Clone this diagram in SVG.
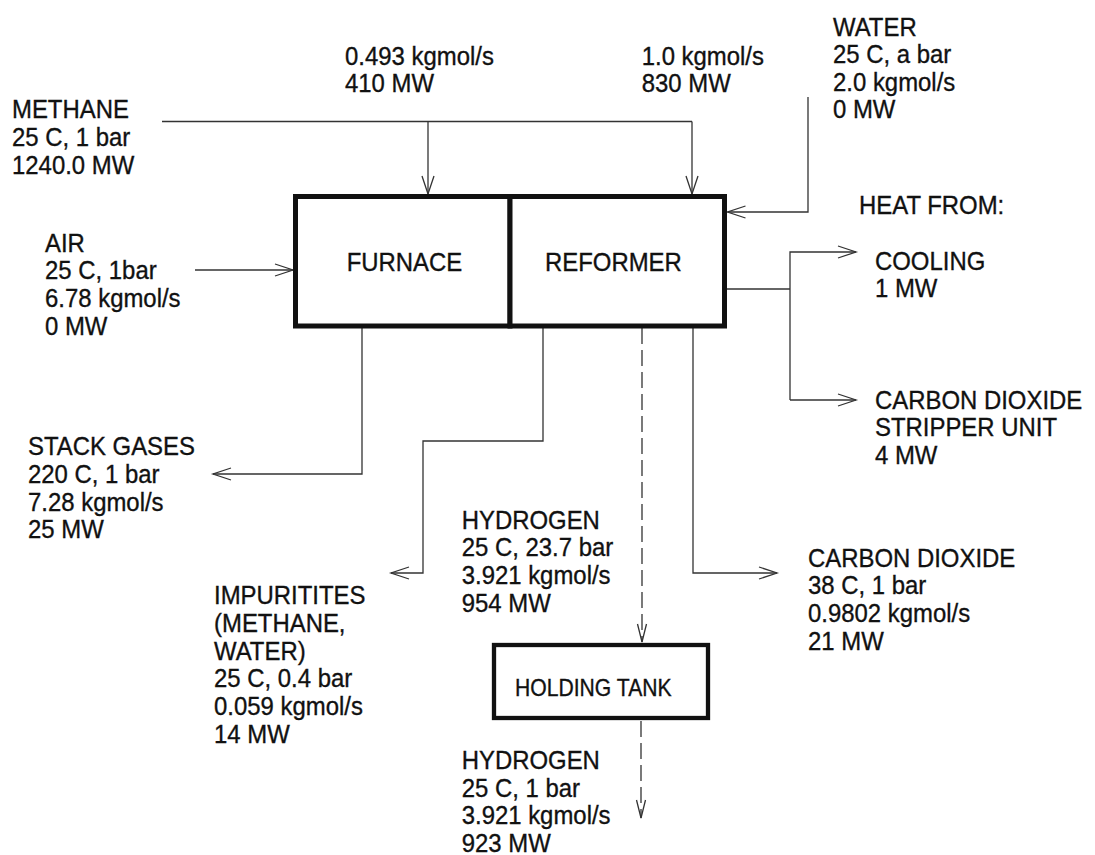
<svg xmlns="http://www.w3.org/2000/svg" width="1095" height="855" viewBox="0 0 1095 855">
<defs>
<style>
.lbl{font-family:"Liberation Sans",Arial,Helvetica,sans-serif;font-size:26px;fill:#111;stroke:#111;stroke-width:0.35;}
.small{font-size:23px;}
.box{fill:#fff;stroke:#111;stroke-width:5;}
.tank{fill:#fff;stroke:#111;stroke-width:4.3;}
.ln{fill:none;stroke:#333;stroke-width:1.3;}
.dash{fill:none;stroke:#333;stroke-width:1.3;stroke-dasharray:16 6;}
</style>
<marker id="arr" markerUnits="userSpaceOnUse" markerWidth="22" markerHeight="14" refX="18" refY="6" orient="auto" overflow="visible">
<path d="M0,0 L18,6 L0,12" fill="none" stroke="#333" stroke-width="1.3"/>
</marker>
<marker id="arrs" markerUnits="userSpaceOnUse" markerWidth="22" markerHeight="12" refX="18" refY="4.5" orient="auto" overflow="visible">
<path d="M0,0 L18,4.5 L0,9" fill="none" stroke="#333" stroke-width="1.3"/>
</marker>
</defs>
<rect width="1095" height="855" fill="#fff"/>

<g id="connectors">
<path class="ln" d="M162,121.5 H692"/>
<path class="ln" d="M428,121.5 V194" marker-end="url(#arr)"/>
<path class="ln" d="M692,121.5 V194" marker-end="url(#arr)"/>
<path class="ln" d="M808,97 V212 H727.5" marker-end="url(#arr)"/>
<path class="ln" d="M195,270 H293" marker-end="url(#arr)"/>
<path class="ln" d="M362,328 V474 H213" marker-end="url(#arr)"/>
<path class="ln" d="M543,328 V441 H423 V573 H391" marker-end="url(#arr)"/>
<path class="dash" d="M642,328 V642" marker-end="url(#arrs)"/>
<path class="dash" d="M641,721 V818" marker-end="url(#arrs)"/>
<path class="ln" d="M693,328 V573 H777" marker-end="url(#arr)"/>
<path class="ln" d="M727,289 H790"/>
<path class="ln" d="M790,400 V252 H856" marker-end="url(#arr)"/>
<path class="ln" d="M790,400 H856" marker-end="url(#arr)"/>
</g>

<g id="furnace">
<rect class="box" x="295.5" y="196.5" width="214.5" height="129.5"/>
<text class="lbl" transform="translate(346.7,270.7) scale(0.92,1)">FURNACE</text>
</g>
<g id="reformer">
<rect class="box" x="510" y="196.5" width="214.5" height="129.5"/>
<text class="lbl" transform="translate(545,270.7) scale(0.92,1)">REFORMER</text>
</g>
<g id="holding-tank">
<rect class="tank" x="494" y="645" width="214" height="73"/>
<text class="lbl small" transform="translate(515,695.7) scale(0.92,1)">HOLDING TANK</text>
</g>

<g id="labels">
<text class="lbl" transform="translate(12,118) scale(0.92,1)"><tspan x="0" y="0">METHANE</tspan><tspan x="0" y="28">25 C, 1 bar</tspan><tspan x="0" y="56">1240.0 MW</tspan></text>
<text class="lbl" transform="translate(345,65) scale(0.92,1)"><tspan x="0" y="0">0.493 kgmol/s</tspan><tspan x="0" y="27">410 MW</tspan></text>
<text class="lbl" transform="translate(641.7,65) scale(0.92,1)"><tspan x="0" y="0">1.0 kgmol/s</tspan><tspan x="0" y="27">830 MW</tspan></text>
<text class="lbl" transform="translate(833,36) scale(0.92,1)"><tspan x="0" y="0">WATER</tspan><tspan x="0" y="27.5">25 C, a bar</tspan><tspan x="0" y="55">2.0 kgmol/s</tspan><tspan x="0" y="82.5">0 MW</tspan></text>
<text class="lbl" transform="translate(859,214) scale(0.92,1)">HEAT FROM:</text>
<text class="lbl" transform="translate(875,270) scale(0.92,1)"><tspan x="0" y="0">COOLING</tspan><tspan x="0" y="27.5">1 MW</tspan></text>
<text class="lbl" transform="translate(875,409) scale(0.92,1)"><tspan x="0" y="0">CARBON DIOXIDE</tspan><tspan x="0" y="27.5">STRIPPER UNIT</tspan><tspan x="0" y="55">4 MW</tspan></text>
<text class="lbl" transform="translate(45,251.7) scale(0.92,1)"><tspan x="0" y="0">AIR</tspan><tspan x="0" y="27.8">25 C, 1bar</tspan><tspan x="0" y="55.6">6.78 kgmol/s</tspan><tspan x="0" y="83.4">0 MW</tspan></text>
<text class="lbl" transform="translate(28,455) scale(0.92,1)"><tspan x="0" y="0">STACK GASES</tspan><tspan x="0" y="27.8">220 C, 1 bar</tspan><tspan x="0" y="55.6">7.28 kgmol/s</tspan><tspan x="0" y="83.4">25 MW</tspan></text>
<text class="lbl" transform="translate(214,604) scale(0.92,1)"><tspan x="0" y="0">IMPURITITES</tspan><tspan x="0" y="27.8">(METHANE,</tspan><tspan x="0" y="55.6">WATER)</tspan><tspan x="0" y="83.4">25 C, 0.4 bar</tspan><tspan x="0" y="111.2">0.059 kgmol/s</tspan><tspan x="0" y="139">14 MW</tspan></text>
<text class="lbl" transform="translate(461.7,528.5) scale(0.92,1)"><tspan x="0" y="0">HYDROGEN</tspan><tspan x="0" y="27.8">25 C, 23.7 bar</tspan><tspan x="0" y="55.6">3.921 kgmol/s</tspan><tspan x="0" y="83.4">954 MW</tspan></text>
<text class="lbl" transform="translate(808,566.7) scale(0.92,1)"><tspan x="0" y="0">CARBON DIOXIDE</tspan><tspan x="0" y="27.8">38 C, 1 bar</tspan><tspan x="0" y="55.6">0.9802 kgmol/s</tspan><tspan x="0" y="83.4">21 MW</tspan></text>
<text class="lbl" transform="translate(461.7,769) scale(0.92,1)"><tspan x="0" y="0">HYDROGEN</tspan><tspan x="0" y="27.6">25 C, 1 bar</tspan><tspan x="0" y="55.2">3.921 kgmol/s</tspan><tspan x="0" y="82.8">923 MW</tspan></text>
</g>
</svg>
